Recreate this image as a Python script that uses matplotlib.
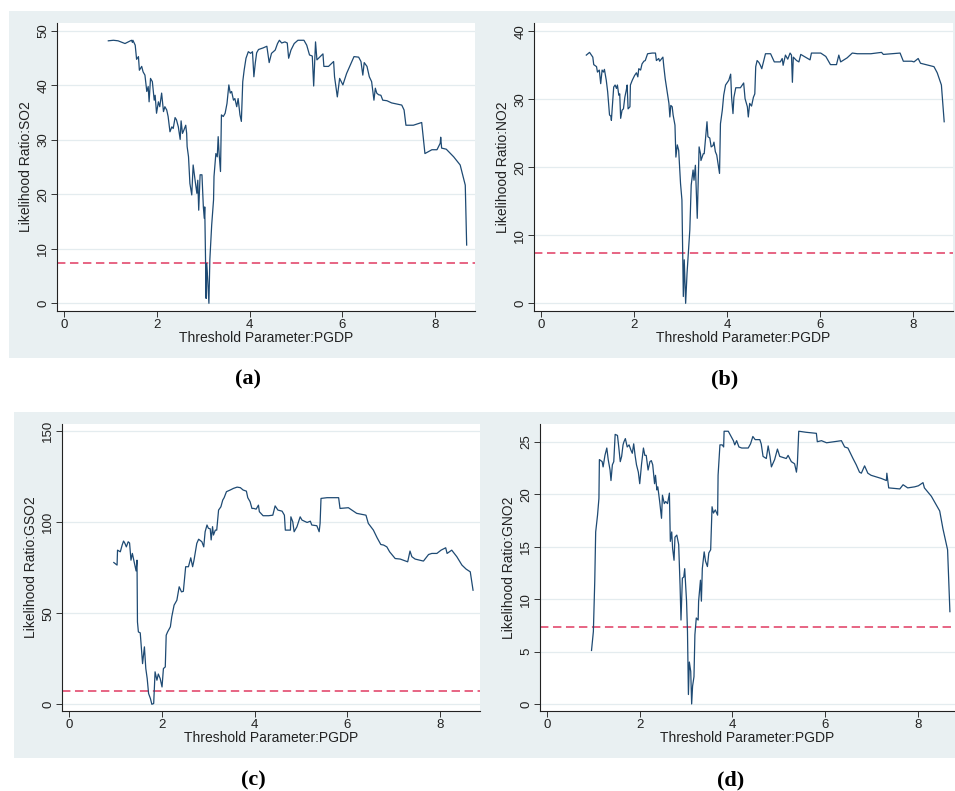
import numpy as np
import matplotlib
matplotlib.use("Agg")
import matplotlib.pyplot as plt
from matplotlib.patches import Rectangle

plt.rcParams['font.family'] = ['Liberation Sans', 'DejaVu Sans']

# threshold parameter (PGDP) and LR statistic
x_so2 = [0.95, 1.06, 1.16, 1.31, 1.38, 1.45, 1.47, 1.48, 1.53, 1.56, 1.60, 1.62, 1.67, 1.70, 1.74,
         1.78, 1.81, 1.83, 1.86, 1.90, 1.94, 1.96, 1.99, 2.03, 2.06, 2.10, 2.14, 2.17, 2.21, 2.24,
         2.28, 2.32, 2.35, 2.39, 2.42, 2.46, 2.50, 2.52, 2.55, 2.58, 2.62, 2.64, 2.65, 2.68, 2.71,
         2.75, 2.78, 2.82, 2.86, 2.88, 2.90, 2.93, 2.97, 3.00, 3.02, 3.03, 3.06, 3.07, 3.09, 3.12,
         3.14, 3.18, 3.22, 3.23, 3.27, 3.30, 3.32, 3.34, 3.37, 3.39, 3.43, 3.47, 3.51, 3.55, 3.58,
         3.61, 3.65, 3.68, 3.72, 3.75, 3.79, 3.82, 3.85, 3.88, 3.92, 3.97, 4.02, 4.06, 4.09, 4.12,
         4.15, 4.19, 4.29, 4.37, 4.42, 4.47, 4.55, 4.60, 4.64, 4.69, 4.76, 4.81, 4.84, 4.89, 4.96,
         5.04, 5.17, 5.23, 5.29, 5.35, 5.38, 5.42, 5.45, 5.52, 5.58, 5.60, 5.70, 5.81, 5.83, 5.89,
         5.94, 6.01, 6.09, 6.25, 6.35, 6.40, 6.44, 6.47, 6.53, 6.58, 6.63, 6.68, 6.71, 6.74, 6.78,
         6.83, 6.87, 6.96, 7.06, 7.28, 7.33, 7.37, 7.53, 7.71, 7.78, 7.93, 8.04, 8.11, 8.12, 8.14,
         8.24, 8.40, 8.54, 8.65, 8.68]
lr_so2 = [48.2, 48.3, 48.2, 47.7, 48.0, 48.3, 47.9, 48.3, 47.4, 44.8, 45.3, 42.8, 43.5, 42.5, 41.9,
          38.9, 39.8, 37.0, 41.3, 40.7, 37.3, 38.2, 34.9, 37.0, 36.1, 38.6, 35.2, 36.1, 35.5, 34.3,
          31.5, 32.4, 32.1, 34.1, 33.7, 32.4, 30.1, 33.5, 31.2, 31.8, 32.7, 31.2, 28.8, 26.9, 22.0,
          19.9, 25.4, 22.7, 20.2, 22.6, 17.1, 23.6, 23.6, 17.7, 15.6, 17.7, 0.9, 7.3, 4.9, 0.0,
          8.0, 14.4, 19.0, 23.3, 27.5, 26.9, 30.6, 27.5, 24.2, 34.6, 34.3, 34.9, 36.7, 40.1, 38.6,
          38.9, 37.3, 37.6, 36.1, 37.6, 34.6, 33.4, 40.7, 42.8, 45.0, 46.2, 45.9, 46.2, 41.6, 44.1,
          46.0, 46.6, 46.9, 47.2, 44.2, 45.9, 46.5, 47.7, 48.3, 47.8, 48.0, 47.8, 45.0, 46.5, 47.7,
          48.3, 48.3, 47.4, 45.6, 45.4, 39.9, 48.0, 44.7, 45.3, 45.8, 43.5, 43.5, 44.4, 41.6, 37.9,
          41.3, 40.1, 42.2, 45.3, 45.2, 44.4, 41.9, 44.2, 43.5, 41.6, 40.7, 37.3, 39.5, 38.6, 38.3,
          38.2, 37.3, 37.2, 36.8, 36.4, 35.5, 32.7, 32.7, 33.2, 27.5, 28.2, 28.2, 29.4, 30.5, 28.5,
          28.3, 26.9, 25.4, 21.7, 10.7]

x_no2 = [0.97, 1.04, 1.11, 1.13, 1.19, 1.21, 1.25, 1.28, 1.31, 1.34, 1.36, 1.40, 1.43, 1.47, 1.50,
         1.51, 1.56, 1.59, 1.62, 1.64, 1.67, 1.69, 1.71, 1.74, 1.77, 1.80, 1.83, 1.85, 1.87, 1.91,
         1.92, 1.96, 2.01, 2.05, 2.08, 2.10, 2.14, 2.17, 2.21, 2.24, 2.29, 2.39, 2.46, 2.48, 2.53,
         2.55, 2.62, 2.64, 2.67, 2.72, 2.75, 2.77, 2.79, 2.82, 2.84, 2.88, 2.90, 2.93, 2.96, 3.00,
         3.03, 3.06, 3.08, 3.11, 3.14, 3.20, 3.23, 3.27, 3.29, 3.32, 3.36, 3.40, 3.43, 3.44, 3.49,
         3.51, 3.57, 3.59, 3.63, 3.66, 3.70, 3.72, 3.75, 3.78, 3.84, 3.86, 3.90, 3.93, 3.97, 4.04,
         4.08, 4.10, 4.13, 4.15, 4.19, 4.29, 4.36, 4.39, 4.44, 4.46, 4.49, 4.53, 4.57, 4.60, 4.62,
         4.65, 4.69, 4.72, 4.75, 4.83, 4.94, 5.02, 5.15, 5.19, 5.21, 5.26, 5.31, 5.36, 5.39, 5.41,
         5.43, 5.50, 5.55, 5.59, 5.69, 5.79, 5.82, 6.02, 6.13, 6.23, 6.36, 6.41, 6.45, 6.59, 6.70,
         6.81, 7.10, 7.33, 7.37, 7.73, 7.80, 7.98, 8.03, 8.12, 8.17, 8.46, 8.53, 8.62, 8.68]
lr_no2 = [36.5, 36.9, 36.2, 35.1, 34.8, 34.0, 34.3, 32.3, 34.3, 34.0, 34.4, 32.8, 31.1, 27.7, 27.5,
          26.9, 31.8, 32.1, 31.6, 32.1, 30.6, 30.8, 27.2, 28.4, 28.6, 30.3, 31.3, 32.1, 28.6, 28.9,
          32.1, 32.8, 33.5, 33.9, 33.3, 34.5, 34.3, 35.2, 35.6, 35.7, 36.7, 36.8, 36.8, 35.7, 36.0,
          35.6, 36.2, 34.8, 33.0, 30.8, 29.4, 27.4, 29.1, 28.9, 27.7, 26.2, 21.5, 23.3, 22.5, 17.6,
          15.2, 1.0, 6.4, 0.0, 4.4, 10.8, 17.4, 19.6, 18.1, 20.3, 12.5, 23.0, 22.0, 21.0, 22.0,
          22.0, 26.7, 24.5, 24.3, 23.0, 23.2, 23.7, 22.3, 21.8, 19.1, 26.4, 28.4, 30.6, 32.1, 32.8,
          33.7, 30.3, 27.9, 30.3, 31.7, 31.7, 32.4, 30.1, 28.9, 27.4, 29.4, 29.0, 30.3, 30.8, 34.8,
          35.7, 35.4, 35.0, 34.5, 36.7, 36.7, 35.5, 35.5, 36.0, 35.0, 36.5, 35.9, 36.8, 36.5, 32.5,
          36.2, 35.7, 35.5, 36.6, 36.2, 35.8, 36.8, 36.8, 36.3, 35.1, 35.1, 36.5, 35.5, 36.1, 36.8,
          36.7, 36.7, 36.9, 36.6, 36.8, 35.6, 35.6, 35.5, 36.0, 35.3, 34.8, 33.9, 32.1, 26.7]

x_gso2 = [0.96, 1.03, 1.04, 1.10, 1.14, 1.17, 1.20, 1.23, 1.27, 1.30, 1.33, 1.36, 1.39, 1.42, 1.44,
          1.46, 1.47, 1.49, 1.53, 1.55, 1.58, 1.62, 1.65, 1.68, 1.71, 1.75, 1.78, 1.82, 1.85, 1.89,
          1.92, 1.96, 2.00, 2.03, 2.07, 2.09, 2.12, 2.18, 2.21, 2.26, 2.32, 2.37, 2.42, 2.46, 2.51,
          2.57, 2.62, 2.66, 2.69, 2.75, 2.79, 2.86, 2.90, 2.93, 2.97, 3.00, 3.04, 3.06, 3.09, 3.11,
          3.15, 3.18, 3.22, 3.27, 3.31, 3.34, 3.39, 3.47, 3.54, 3.62, 3.69, 3.75, 3.82, 3.85, 3.90,
          3.94, 3.98, 4.03, 4.08, 4.10, 4.18, 4.30, 4.39, 4.44, 4.50, 4.59, 4.64, 4.66, 4.77, 4.78,
          4.82, 4.85, 4.91, 4.98, 5.02, 5.13, 5.20, 5.23, 5.34, 5.39, 5.41, 5.43, 5.56, 5.81, 5.84,
          6.02, 6.20, 6.40, 6.45, 6.56, 6.64, 6.72, 6.78, 6.85, 6.91, 7.03, 7.14, 7.30, 7.35, 7.39,
          7.46, 7.64, 7.75, 7.82, 7.93, 8.02, 8.12, 8.15, 8.25, 8.36, 8.47, 8.56, 8.65, 8.71]
lr_gso2 = [77.8, 76.4, 84.6, 83.7, 87.4, 89.6, 88.3, 86.4, 89.2, 88.5, 79.1, 82.8, 79.1, 75.5, 73.2,
           79.1, 45.2, 39.7, 39.2, 32.4, 22.3, 31.5, 19.6, 14.1, 5.9, 3.1, 0.0, 0.4, 17.8, 13.2,
           16.6, 14.1, 9.5, 19.6, 20.5, 37.9, 39.7, 42.5, 48.0, 54.4, 57.1, 64.5, 61.7, 62.0, 75.5,
           75.5, 80.4, 75.5, 79.1, 88.3, 90.6, 89.2, 86.4, 94.7, 98.4, 96.6, 96.3, 90.2, 97.5, 92.9,
           95.6, 95.6, 106.6, 108.4, 112.1, 113.4, 116.7, 117.6, 118.5, 119.2, 118.9, 117.6, 117.0, 113.4, 111.2,
           107.5, 107.5, 107.1, 109.3, 105.7, 103.5, 103.5, 103.8, 108.9, 106.6, 106.0, 103.8, 95.6, 95.6, 102.9,
           100.2, 94.7, 97.4, 102.9, 101.1, 99.8, 100.5, 98.4, 98.0, 94.7, 99.3, 113.0, 113.4, 113.4, 107.5,
           107.9, 104.8, 103.8, 99.3, 95.6, 91.4, 87.7, 87.4, 86.4, 83.7, 80.0, 79.7, 78.2, 84.1, 81.0,
           79.7, 78.6, 82.2, 82.8, 82.8, 84.6, 85.9, 82.8, 84.6, 81.0, 76.4, 74.2, 72.7, 62.6]

x_gno2 = [0.96, 1.00, 1.03, 1.05, 1.09, 1.12, 1.13, 1.19, 1.21, 1.25, 1.29, 1.32, 1.36, 1.38, 1.41,
          1.44, 1.47, 1.52, 1.55, 1.58, 1.61, 1.64, 1.66, 1.69, 1.73, 1.77, 1.81, 1.84, 1.87, 1.90,
          1.93, 1.97, 2.00, 2.04, 2.08, 2.11, 2.14, 2.18, 2.22, 2.25, 2.28, 2.32, 2.34, 2.37, 2.39,
          2.43, 2.47, 2.49, 2.53, 2.56, 2.60, 2.64, 2.66, 2.69, 2.71, 2.74, 2.76, 2.80, 2.84, 2.87,
          2.89, 2.92, 2.95, 2.97, 3.01, 3.03, 3.05, 3.07, 3.10, 3.12, 3.14, 3.17, 3.19, 3.22, 3.26,
          3.27, 3.31, 3.33, 3.35, 3.39, 3.42, 3.46, 3.49, 3.53, 3.56, 3.59, 3.63, 3.68, 3.69, 3.73,
          3.78, 3.81, 3.82, 3.91, 3.97, 4.02, 4.05, 4.09, 4.14, 4.20, 4.34, 4.39, 4.44, 4.49, 4.59,
          4.62, 4.66, 4.73, 4.77, 4.81, 4.84, 4.91, 4.97, 5.02, 5.16, 5.20, 5.27, 5.34, 5.38, 5.40,
          5.43, 5.59, 5.81, 5.83, 5.92, 6.03, 6.35, 6.42, 6.49, 6.60, 6.67, 6.74, 6.78, 6.85, 6.92,
          6.99, 7.21, 7.32, 7.33, 7.37, 7.61, 7.68, 7.78, 7.93, 8.01, 8.11, 8.14, 8.29, 8.47, 8.54,
          8.64, 8.69]
lr_gno2 = [5.1, 6.9, 11.7, 16.4, 18.0, 19.6, 23.3, 23.1, 22.6, 23.7, 24.4, 23.3, 22.3, 21.3, 22.8,
           23.1, 25.7, 25.6, 24.4, 23.1, 23.6, 24.7, 25.0, 25.3, 24.5, 24.7, 24.2, 23.9, 24.8, 23.7,
           22.8, 22.1, 21.0, 22.9, 24.4, 23.7, 23.7, 22.3, 23.1, 23.2, 22.8, 21.0, 21.8, 20.4, 20.7,
           19.3, 17.7, 19.9, 19.1, 19.3, 19.1, 20.1, 15.5, 16.4, 14.8, 13.7, 15.9, 16.1, 15.2, 11.3,
           8.0, 12.0, 12.1, 12.9, 9.8, 6.9, 0.9, 4.0, 3.1, 0.0, 1.7, 2.6, 6.6, 8.2, 8.0,
           9.8, 11.8, 9.8, 12.9, 14.5, 13.6, 13.1, 14.4, 14.7, 18.8, 18.2, 18.5, 18.0, 21.8, 24.7,
           24.7, 24.5, 26.0, 26.0, 25.5, 25.1, 24.7, 25.1, 24.5, 24.4, 24.4, 24.8, 25.5, 25.2, 25.2,
           24.8, 23.6, 23.4, 24.6, 23.6, 22.6, 23.3, 24.3, 23.6, 23.4, 23.7, 23.1, 22.9, 22.1, 22.9,
           26.0, 25.9, 25.8, 25.0, 25.1, 24.9, 25.1, 24.5, 24.4, 23.4, 22.8, 22.1, 22.0, 22.7, 22.0,
           21.8, 21.5, 21.3, 22.0, 20.6, 20.5, 20.9, 20.6, 20.7, 20.8, 21.1, 20.6, 19.8, 18.4, 16.7,
           14.7, 8.8]

crit = 7.35  # 95% critical value
ylabels = ["Likelihood Ratio:SO2", "Likelihood Ratio:NO2", "Likelihood Ratio:GSO2", "Likelihood Ratio:GNO2"]
yticks = [[0, 10, 20, 30, 40, 50], [0, 10, 20, 30, 40], [0, 50, 100, 150], [0, 5, 10, 15, 20, 25]]
panel_tags = ["(a)", "(b)", "(c)", "(d)"]

W, H = 955, 791
BG = '#e9f0f2'
NAVY = '#1e4a73'

fig = plt.figure(figsize=(W / 100, H / 100), dpi=100)

def px_rect(x0, y0, x1, y1):
    # pixel box (top-left origin) -> figure fraction [l, b, w, h]
    return [x0 / W, (H - y1) / H, (x1 - x0) / W, (y1 - y0) / H]

# light backgrounds of the graph regions (drawn below the axes)
for (x0, y0, x1, y1) in [(9, 11, 955, 358), (14, 412, 955, 758)]:
    l, b, w, h = px_rect(x0, y0, x1, y1)
    fig.patches.append(Rectangle((l, b), w, h, transform=fig.transFigure,
                                 facecolor=BG, edgecolor='none', zorder=-5))

boxes = [(57, 23, 475, 311), (534, 23, 953, 311), (62, 424, 480, 711), (540, 424, 955, 711)]
xlims = [(-0.157, 8.86), (-0.157, 8.87), (-0.158, 8.86), (-0.151, 8.80)]
ylims = [(-1.41, 51.47), (-1.13, 41.22), (-3.7, 153.85), (-0.67, 26.69)]
series = [(x_so2, lr_so2), (x_no2, lr_no2), (x_gso2, lr_gso2), (x_gno2, lr_gno2)]
tag_pos = [(248, 379), (725, 379), (253, 780), (731, 780)]

for i in range(4):
    ax = fig.add_axes(px_rect(*boxes[i]))
    ax.set_facecolor('white')
    xs, ys = series[i]
    ax.plot(xs, ys, color=NAVY, lw=0.9, zorder=3)
    ax.axhline(crit, color='#e03a62', lw=1.1, dashes=(5.5, 3), zorder=2)
    ax.set_xlim(*xlims[i])
    ax.set_ylim(*ylims[i])
    ax.set_xticks([0, 2, 4, 6, 8])
    ax.set_yticks(yticks[i])
    for t in yticks[i]:
        ax.axhline(t, color='#e4ecef', lw=0.9, zorder=1)
    for s in ['top', 'right']:
        ax.spines[s].set_visible(False)
    for s in ['left', 'bottom']:
        ax.spines[s].set_color('#222222')
        ax.spines[s].set_linewidth(0.8)
    ax.tick_params(direction='out', length=4, width=0.7, color='#333333',
                   labelsize=9.5, labelcolor='#222222', pad=1.5)
    ax.tick_params(axis='y', labelrotation=90)
    for lab in ax.get_yticklabels():
        lab.set_verticalalignment('center')
    ax.set_xlabel("Threshold Parameter:PGDP", fontsize=10, color='#222222', labelpad=0)
    ax.set_ylabel(ylabels[i], fontsize=10, color='#222222', labelpad=3)
    tx, ty = tag_pos[i]
    fig.text(tx / W, 1 - ty / H, panel_tags[i], ha='center', va='center',
             fontsize=16, fontweight='bold', family=['Liberation Serif', 'DejaVu Serif'])

fig.savefig("out.png", dpi=100)
